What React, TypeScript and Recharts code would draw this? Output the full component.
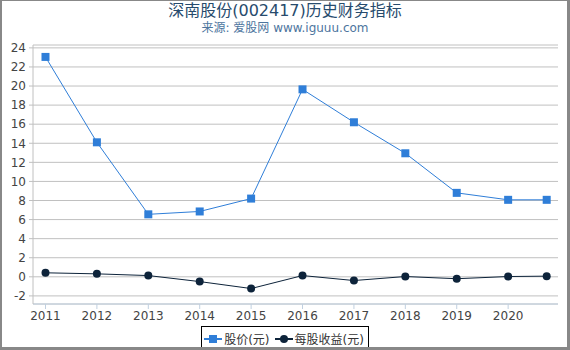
import { LineChart, Line, XAxis, YAxis, CartesianGrid, Legend } from 'recharts';

const years = [2011, 2012, 2013, 2014, 2015, 2016, 2017, 2018, 2019, 2020, 2020.75];
const prices = [23.05, 14.1, 6.55, 6.85, 8.2, 19.65, 16.2, 12.95, 8.8, 8.07, 8.07];
const eps = [0.42, 0.31, 0.13, -0.5, -1.23, 0.13, -0.39, 0.03, -0.2, 0.03, 0.07];
const xTicks = [2011, 2012, 2013, 2014, 2015, 2016, 2017, 2018, 2019, 2020];
const yTicks = [-2, 0, 2, 4, 6, 8, 10, 12, 14, 16, 18, 20, 22, 24];

const data = years.map((year, i) => ({ year, price: prices[i], eps: eps[i] }));

const font = '"DejaVu Sans", "Noto Sans CJK SC", sans-serif';
const priceColor = '#2f7ed8';
const epsColor = '#0d233a';

const SquareDot = ({ cx, cy }: any) => (
    <rect x={cx - 4} y={cy - 4} width={8} height={8} fill={priceColor} />
);

const renderLegend = () => (
    <div style={{ display: 'flex', justifyContent: 'center' }}>
        <div
            style={{
                border: '1px solid #000',
                display: 'flex',
                alignItems: 'center',
                padding: '3px 4px 3px 2px',
                fontSize: 12,
                color: '#333',
                fontFamily: font,
                background: '#fff',
            }}
        >
            <svg width={18} height={10}>
                <line x1={0} y1={5} x2={18} y2={5} stroke={priceColor} strokeWidth={2} />
                <rect x={5} y={1} width={8} height={8} fill={priceColor} />
            </svg>
            <span style={{ marginLeft: 2, marginRight: 5 }}>股价(元)</span>
            <svg width={18} height={10}>
                <line x1={0} y1={5} x2={18} y2={5} stroke={epsColor} strokeWidth={2} />
                <circle cx={9} cy={5} r={4} fill={epsColor} />
            </svg>
            <span style={{ marginLeft: 2 }}>每股收益(元)</span>
        </div>
    </div>
);

const App = () => {
    return (
        <div style={{ position: 'absolute', left: 0, top: 0, width: 570, height: 350, background: '#fff' }}>
            <div
                style={{
                    position: 'absolute',
                    top: 1,
                    width: 570,
                    textAlign: 'center',
                    fontFamily: font,
                    fontSize: 16,
                    lineHeight: '20px',
                    color: '#274b6d',
                }}
            >
                深南股份(002417)历史财务指标
            </div>
            <div
                style={{
                    position: 'absolute',
                    top: 20,
                    width: 570,
                    textAlign: 'center',
                    fontFamily: font,
                    fontSize: 12,
                    lineHeight: '16px',
                    color: '#4d759e',
                }}
            >
                来源: 爱股网 www.iguuu.com
            </div>
            <div style={{ position: 'absolute', left: 0, top: 0 }}>
                <LineChart width={570} height={350} data={data} margin={{ top: 45, right: 12, left: 0, bottom: 22 }}>
                    <CartesianGrid vertical={false} stroke="#c0c0c0" />
                    <XAxis
                        dataKey="year"
                        type="number"
                        domain={[2010.757, 2020.97]}
                        ticks={xTicks}
                        interval={0}
                        allowDataOverflow
                        height={24}
                        stroke="#c0d0e0"
                        tickSize={5}
                        tickMargin={2}
                        tick={{ fontSize: 12, fill: '#444', fontFamily: font }}
                    />
                    <YAxis
                        type="number"
                        domain={[-2.85, 24.3]}
                        ticks={yTicks}
                        interval={0}
                        allowDataOverflow
                        width={33}
                        stroke="#c0c0c0"
                        tickSize={4}
                        tickMargin={3}
                        tick={{ fontSize: 12, fill: '#444', fontFamily: font }}
                    />
                    <Legend
                        layout="horizontal"
                        verticalAlign="middle"
                        align="center"
                        wrapperStyle={{ left: 0, top: 326, width: 570 }}
                        content={renderLegend}
                    />
                    <Line
                        dataKey="price"
                        stroke={priceColor}
                        strokeWidth={1}
                        dot={<SquareDot />}
                        activeDot={false}
                        isAnimationActive={false}
                    />
                    <Line
                        dataKey="eps"
                        stroke={epsColor}
                        strokeWidth={1}
                        dot={{ r: 4, fill: epsColor, stroke: 'none' }}
                        activeDot={false}
                        isAnimationActive={false}
                    />
                </LineChart>
            </div>
            <div
                style={{
                    position: 'absolute',
                    left: 0,
                    top: 0,
                    width: 570,
                    height: 350,
                    boxSizing: 'border-box',
                    borderStyle: 'solid',
                    borderColor: '#888',
                    borderWidth: '1px 3px 3px 2px',
                    pointerEvents: 'none',
                }}
            />
        </div>
    );
};

export default App;
